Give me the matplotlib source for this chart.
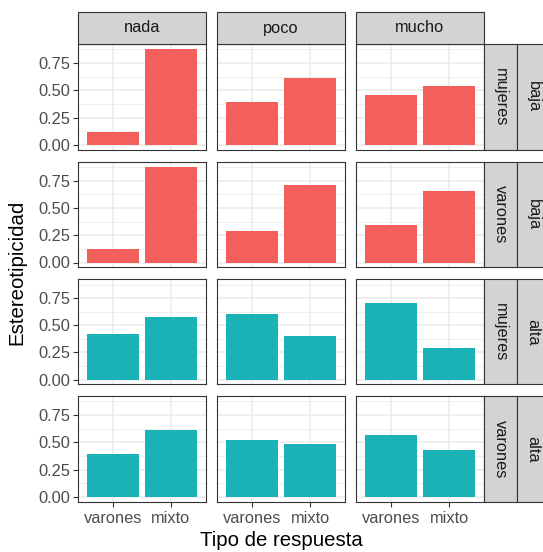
import matplotlib
matplotlib.use("Agg")
import matplotlib.pyplot as plt
from matplotlib.patches import Rectangle

plt.rcParams["font.family"] = ["Liberation Sans", "DejaVu Sans"]

# Facet levels
respuestas = ["nada", "poco", "mucho"]
tipos = ["varones", "mixto"]
row_sexo = ["mujeres", "varones", "mujeres", "varones"]
row_nivel = ["baja", "baja", "alta", "alta"]

# Estereotipicidad per row (sexo x nivel), column (respuesta), bar (tipo)
vals_mujeres_baja = [[0.12, 0.88], [0.39, 0.61], [0.46, 0.54]]
vals_varones_baja = [[0.12, 0.88], [0.29, 0.71], [0.34, 0.66]]
vals_mujeres_alta = [[0.42, 0.58], [0.60, 0.40], [0.71, 0.29]]
vals_varones_alta = [[0.39, 0.61], [0.52, 0.48], [0.57, 0.43]]
valores = [vals_mujeres_baja, vals_varones_baja, vals_mujeres_alta, vals_varones_alta]

y_ticks = [0.0, 0.25, 0.50, 0.75]
y_ticklabels = ["0.00", "0.25", "0.50", "0.75"]

colores = {"baja": "#F35F5B", "alta": "#19B3B7"}

W, H = 543, 552
fig = plt.figure(figsize=(W / 100, H / 100), dpi=100)
fig.patch.set_facecolor("white")

col_x = [(78.3, 205.7), (217.3, 345.0), (356.0, 484.0)]
row_y = [(44.0, 150.0), (161.7, 267.3), (279.3, 384.3), (396.0, 501.7)]
strip_top = (12.0, 44.0)
strip_in = (484.0, 516.7)
strip_out = (516.7, 549.4)

ymax = max(v for r in valores for c in r for v in c)
ylim = (-0.05 * ymax, 1.05 * ymax)

def fx(px):
    return px / W

def fy(py):
    return 1 - py / H

edge = "#333333"
grid = "#EBEBEB"
txt_axis = "#4D4D4D"
strip_fill = "#D3D3D3"
small = 11.8
big = 14.7

for i, (y0, y1) in enumerate(row_y):
    for j, (x0, x1) in enumerate(col_x):
        ax = fig.add_axes([fx(x0), fy(y1), fx(x1) - fx(x0), fy(y0) - fy(y1)])
        ax.set_facecolor("white")
        ax.set_xlim(0.4, 2.6)
        ax.set_ylim(*ylim)
        for g in [0.125, 0.375, 0.625, 0.875]:
            ax.axhline(g, color=grid, lw=0.55, zorder=0)
        for g in y_ticks:
            ax.axhline(g, color=grid, lw=1.1, zorder=0)
        for g in [1, 2]:
            ax.axvline(g, color=grid, lw=1.1, zorder=0)
        ax.bar([1, 2], valores[i][j], width=0.9,
               color=colores[row_nivel[i]], zorder=2)
        for s in ax.spines.values():
            s.set_color(edge)
            s.set_linewidth(0.8)
        ax.set_yticks(y_ticks)
        ax.set_xticks([1, 2])
        ax.tick_params(length=3.5, width=0.8, color=edge, labelcolor=txt_axis,
                       labelsize=small, pad=2)
        if j == 0:
            ax.set_yticklabels(y_ticklabels)
        else:
            ax.tick_params(axis="y", left=False, labelleft=False)
        if i == len(row_y) - 1:
            ax.set_xticklabels(tipos)
            ax.tick_params(axis="x", pad=3.5)
        else:
            ax.tick_params(axis="x", bottom=False, labelbottom=False)

# Column strips
for j, (x0, x1) in enumerate(col_x):
    fig.patches.append(Rectangle((fx(x0), fy(strip_top[1])), fx(x1) - fx(x0),
                                 fy(strip_top[0]) - fy(strip_top[1]),
                                 transform=fig.transFigure, facecolor=strip_fill,
                                 edgecolor=edge, lw=0.8, zorder=3))
    fig.text(fx((x0 + x1) / 2), fy((strip_top[0] + strip_top[1]) / 2), respuestas[j],
             ha="center", va="center", fontsize=small, color="#1A1A1A")

# Row strips
for i, (y0, y1) in enumerate(row_y):
    for (sx0, sx1), lab in [(strip_in, row_sexo[i]), (strip_out, row_nivel[i])]:
        fig.patches.append(Rectangle((fx(sx0), fy(y1)), fx(sx1) - fx(sx0),
                                     fy(y0) - fy(y1), transform=fig.transFigure,
                                     facecolor=strip_fill, edgecolor=edge, lw=0.8,
                                     zorder=3))
        fig.text(fx((sx0 + sx1) / 2), fy((y0 + y1) / 2), lab, rotation=-90,
                 ha="center", va="center", fontsize=small, color="#1A1A1A")

fig.text(fx((col_x[0][0] + col_x[-1][1]) / 2), fy(540), "Tipo de respuesta",
         ha="center", va="center", fontsize=big, color="black")
fig.text(fx(17), fy((row_y[0][0] + row_y[-1][1]) / 2), "Estereotipicidad",
         rotation=90, ha="center", va="center", fontsize=big, color="black")

fig.savefig("out.png", dpi=100, facecolor="white")
